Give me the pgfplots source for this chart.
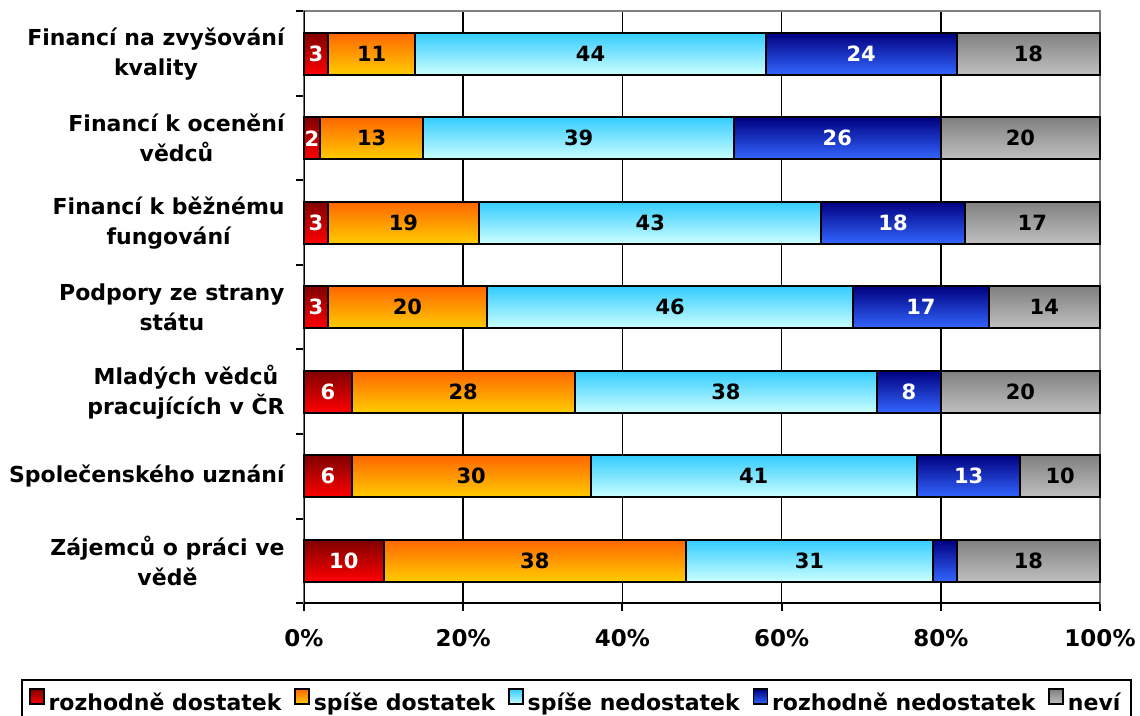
\documentclass[border=0pt]{standalone}
\usepackage{fontspec}
\setmainfont{DejaVu Sans}
\usepackage{pgfplots}
\usepackage{pgfplotstable}
\pgfplotsset{compat=1.18}

\definecolor{rA}{HTML}{800000}
\definecolor{rB}{HTML}{FF0000}
\definecolor{oA}{HTML}{FF6600}
\definecolor{oB}{HTML}{FFCC00}
\definecolor{cA}{HTML}{33CCFF}
\definecolor{cB}{HTML}{CCFFFF}
\definecolor{bA}{HTML}{000080}
\definecolor{bB}{HTML}{3366FF}
\definecolor{gA}{HTML}{808080}
\definecolor{gB}{HTML}{C0C0C0}

% pos: 6 = top row, 0 = bottom row
\pgfplotstableread{
pos a b c d e
6 3 11 44 24 18
5 2 13 39 26 20
4 3 19 43 18 17
3 3 20 46 17 14
2 6 28 38 8 20
1 6 30 41 13 10
0 10 38 31 3 18
}\data

\pgfdeclareplotmark{nomark}{}

% #1 column, #2 top colour, #3 bottom colour, #4 label colour, #5 label only above
\pgfplotsset{
  sbar/.style n args={5}{
    only marks, mark=nomark, scatter,
    visualization depends on={\thisrow{#1} \as \val},
    scatter/@pre marker code/.code={%
      \shade[top color=#2, bottom color=#3, draw=black, line width=1bp]
        (-\val*3.98bp,-10.5bp) rectangle (0pt,10.5bp);
      \pgfmathtruncatemacro\lab{\val}%
      \ifnum\lab>#5\relax
        \node[text=#4, font=\fontsize{10.5bp}{12bp}\selectfont\bfseries, inner sep=0pt]
          at (-\val*1.99bp,0pt) {\lab};
      \fi
    },
    scatter/@post marker code/.code={},
    legend image code/.code={\shade[top color=#2, bottom color=#3, draw=black, line width=0.8bp]
      (0bp,-0.5bp) rectangle (7bp,7bp);},
  },
}

\begin{document}
\begin{tikzpicture}
\begin{axis}[
  at={(0,0)}, anchor=south west,
  stack plots=x,
  x=3.98bp, y=42.25bp,
  xmin=0, xmax=100, ymin=-0.5, ymax=6.5,
  xtick={0,20,...,100},
  xticklabels={0\%,20\%,40\%,60\%,80\%,100\%},
  minor xtick={0,20,...,100},
  ytick={0,...,6},
  yticklabels={
    {Zájemců o práci ve\\vědě},
    {Společenského uznání},
    {Mladých vědců \\pracujících v ČR},
    {Podpory ze strany\\státu},
    {Financí k běžnému\\fungování},
    {Financí k ocenění\\vědců},
    {Financí na zvyšování\\kvality}},
  minor ytick={-0.5,0.5,...,6.5},
  tick align=outside,
  tick pos=left,
  major tick length=0pt,
  minor tick length=4bp,
  tick style={black, line width=1bp},
  xmajorgrids,
  major x grid style={black, line width=0.85bp},
  axis line style={draw=gA, line width=1bp},
  yticklabel style={align=center, font=\fontsize{11bp}{15bp}\selectfont\bfseries, inner xsep=0pt, xshift=-9.5bp},
  xticklabel style={font=\fontsize{11.5bp}{14bp}\selectfont\bfseries, yshift=-9.5bp},
  legend columns=5,
  legend style={at={(-0.3555,-0.1290)}, anchor=north west, draw=black, line width=1bp,
    font=\fontsize{11bp}{13bp}\selectfont\bfseries, inner xsep=3.5bp, inner ysep=4bp,
    /tikz/every even column/.append style={column sep=4.4bp}},
  legend cell align=left,
]
\addplot[sbar={a}{rA}{rB}{white}{0}] table[x=a, y=pos] {\data};
\addlegendentry{rozhodně dostatek}
\addplot[sbar={b}{oA}{oB}{black}{0}] table[x=b, y=pos] {\data};
\addlegendentry{spíše dostatek}
\addplot[sbar={c}{cA}{cB}{black}{0}] table[x=c, y=pos] {\data};
\addlegendentry{spíše nedostatek}
\addplot[sbar={d}{bA}{bB}{white}{3}] table[x=d, y=pos] {\data};
\addlegendentry{rozhodně nedostatek}
\addplot[sbar={e}{gA}{gB}{black}{0}] table[x=e, y=pos] {\data};
\addlegendentry{neví}
\draw[black, line width=1bp] (axis cs:0,6.5) -- (axis cs:0,-0.5) -- (axis cs:100,-0.5);
\end{axis}
\pgfresetboundingbox
\path (-152bp,-56.5bp) rectangle (418bp,301.5bp);
\end{tikzpicture}
\end{document}
